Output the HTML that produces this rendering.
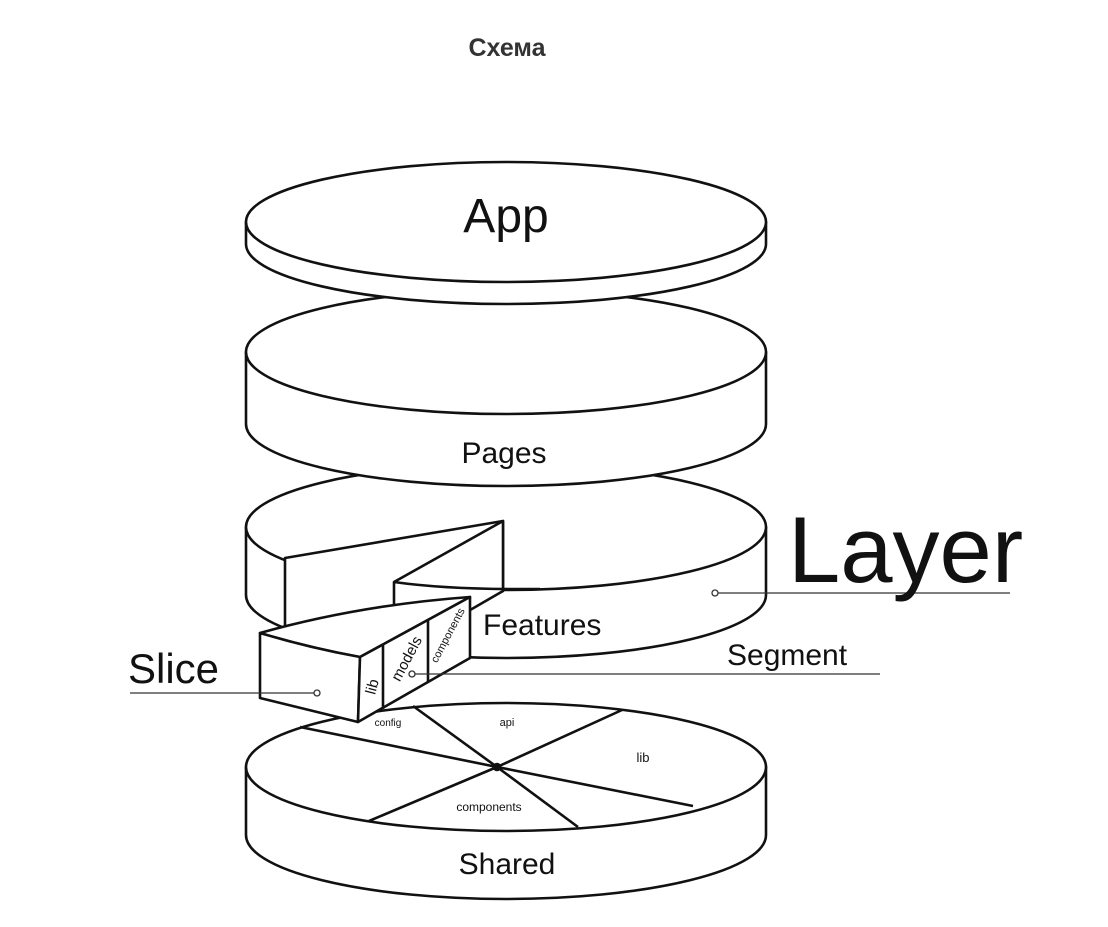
<!DOCTYPE html>
<html><head><meta charset="utf-8"><style>
html,body{margin:0;padding:0;background:#fff;}
body{width:1108px;height:927px;overflow:hidden;}
svg{display:block}
text{font-family:"Liberation Sans",sans-serif;fill:#111}
</style></head><body>
<svg width="1108" height="927" viewBox="0 0 1108 927" xmlns="http://www.w3.org/2000/svg">
<text x="507" y="56" text-anchor="middle" style="font-weight:bold;font-size:25px;fill:#333">Схема</text>
<g stroke="#111" stroke-width="2.6" fill="#fff" stroke-linejoin="round">
<!-- Shared -->
<path d="M246,767 L246,835 A260,64 0 0 0 766,835 L766,767 Z"/>
<ellipse cx="506" cy="767" rx="260" ry="64"/>
<path d="M497,767 L300,727 M497,767 L413,706 M497,767 L622,710 M497,767 L693,806 M497,767 L578,827 M497,767 L369,821" fill="none"/>
<circle cx="497" cy="767" r="3" fill="#111"/>
<!-- Features -->
<path d="M246,527 L246,595 A260,63 0 0 0 766,595 L766,527 Z"/>
<ellipse cx="506" cy="527" rx="260" ry="63"/>
<polygon stroke="none" points="503,521 285,558 285,628 340,646 394,654 394,582 450,588 503,590"/>
<polygon points="285,558 503,521 503,591 285,628"/>
<polygon points="503,521 394,582 394,654 503,591"/>
<path d="M394,582 Q450,590 540,589" fill="none"/>
<!-- Pages -->
<path d="M246,352 L246,424 A260,62 0 0 0 766,424 L766,352 Z"/>
<ellipse cx="506" cy="352" rx="260" ry="62"/>
<!-- App -->
<path d="M246,222 L246,244 A260,60 0 0 0 766,244 L766,222 Z"/>
<ellipse cx="506" cy="222" rx="260" ry="60"/>
<!-- Slice -->
<path d="M260,633 Q360,605 470,597 L360,657 Q310,648 260,633 Z"/>
<path d="M260,633 Q310,648 360,657 L358,722 L260,698 Z"/>
<polygon points="360,657 470,597 470,658 358,722"/>
<path d="M383,644 L383,709 M428,620 L428,682" fill="none"/>
</g>
<g stroke="#333" stroke-width="1.3" fill="#fff">
<line x1="130" y1="693" x2="314" y2="693"/><circle cx="317" cy="693" r="3"/>
<line x1="415" y1="674" x2="880" y2="674"/><circle cx="412" cy="674" r="3"/>
<line x1="718" y1="593" x2="1010" y2="593"/><circle cx="715" cy="593" r="3"/>
</g>
<text x="506" y="232" text-anchor="middle" font-size="48">App</text>
<text x="504" y="463" text-anchor="middle" font-size="30">Pages</text>
<text x="483" y="635" font-size="30">Features</text>
<text x="507" y="874" text-anchor="middle" font-size="30">Shared</text>
<text x="788" y="582" font-size="94">Layer</text>
<text x="727" y="665" font-size="30">Segment</text>
<text x="128" y="683" font-size="42">Slice</text>
<text x="388" y="726" text-anchor="middle" font-size="10">config</text>
<text x="507" y="726" text-anchor="middle" font-size="11">api</text>
<text x="643" y="762" text-anchor="middle" font-size="13">lib</text>
<text x="489" y="811" text-anchor="middle" font-size="12">components</text>
<text transform="translate(377,688) rotate(-75)" text-anchor="middle" font-size="15">lib</text>
<text transform="translate(411,661) rotate(-62)" text-anchor="middle" font-size="15">models</text>
<text transform="translate(451,637) rotate(-62)" text-anchor="middle" font-size="11">components</text>
</svg>
</body></html>
